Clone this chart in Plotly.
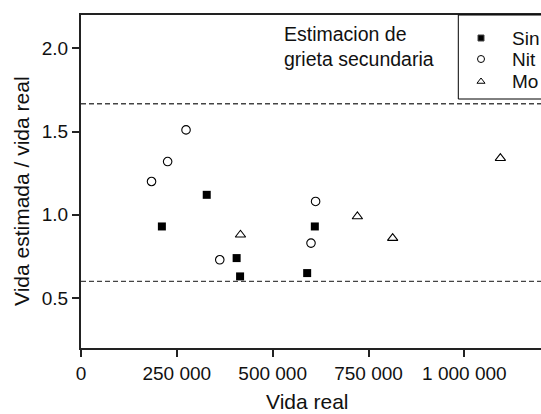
import plotly.graph_objects as go

# Fatigue life: estimated / real ratio versus real life, secondary crack estimate
sin_life = [211000, 328000, 406000, 415000, 590000, 610000]
sin_ratio = [0.93, 1.12, 0.74, 0.63, 0.65, 0.93]

nit_life = [184000, 226000, 274000, 362000, 600000, 612000]
nit_ratio = [1.20, 1.32, 1.51, 0.73, 0.83, 1.08]

mo_life = [416000, 721000, 813000, 1094000]
mo_ratio = [0.88, 0.99, 0.86, 1.34]

series_names = ["Sin", "Nit", "Mo"]

# Scatter band limits (factor of 1/0.6)
band_low = 0.6
band_high = 1 / 0.6

x_tickvals = [0, 250000, 500000, 750000, 1000000]
x_ticktext = ["0", "250 000", "500 000", "750 000", "1 000 000"]
y_tickvals = [0.5, 1.0, 1.5, 2.0]

W, H = 541, 414
ML, MR, MT, MB = 81, 0, 15, 66
PW, PH = W - ML - MR, H - MT - MB

FONT = "Arial, Liberation Sans, sans-serif"
INK = "#111111"
LINE = "#222222"


def px_x(p):
    return (p - ML) / PW


def px_y(p):
    return (H - MB - p) / PH


fig = go.Figure()

fig.add_trace(go.Scatter(
    x=sin_life, y=sin_ratio, mode="markers", name=series_names[0],
    marker=dict(symbol="square", size=8, color="#000000", line=dict(width=0)),
    showlegend=False))
fig.add_trace(go.Scatter(
    x=nit_life, y=nit_ratio, mode="markers", name=series_names[1],
    marker=dict(symbol="circle-open", size=8.5, color="#000000", line=dict(width=1.1)),
    showlegend=False))
fig.add_trace(go.Scatter(
    x=mo_life, y=mo_ratio, mode="markers", name=series_names[2],
    marker=dict(symbol="triangle-up-open", size=9, color="#000000", line=dict(width=1.1)),
    showlegend=False))

# Hand-built key on a pixel-scaled overlay axis pair
key_rows = [38, 59, 81.5]
key_symbols = ["square", "circle-open", "triangle-up-open"]
key_sizes = [6, 7, 7]
for name, sym, sz, ry in zip(series_names, key_symbols, key_sizes, key_rows):
    fig.add_trace(go.Scatter(
        x=[481], y=[ry], xaxis="x2", yaxis="y2", mode="markers",
        marker=dict(symbol=sym, size=sz, color="#000000", line=dict(width=1)),
        showlegend=False, cliponaxis=False, hoverinfo="skip"))
    fig.add_annotation(
        x=px_x(510), y=px_y(ry), xref="paper", yref="paper",
        text=name, showarrow=False, xanchor="left", yanchor="middle",
        font=dict(family=FONT, size=19, color=INK))

fig.add_shape(type="rect", xref="paper", yref="paper",
              x0=px_x(458.3), x1=px_x(W + 20), y0=px_y(99), y1=1.0,
              line=dict(color="#000000", width=1), fillcolor="rgba(0,0,0,0)")

for lvl in (band_low, band_high):
    fig.add_shape(type="line", xref="paper", yref="y", x0=0, x1=1,
                  y0=lvl, y1=lvl,
                  line=dict(color="#444444", width=1.4, dash="5px,3px"))

fig.add_annotation(
    x=px_x(281.5), y=px_y(46), xref="paper", yref="paper",
    text="Estimacion de<br>grieta secundaria", showarrow=False,
    xanchor="left", yanchor="middle", align="left",
    font=dict(family=FONT, size=19.5, color=INK))

# Axis titles
fig.add_annotation(
    x=px_x(307), y=px_y(401.5), xref="paper", yref="paper",
    text="Vida real", showarrow=False, xanchor="center", yanchor="middle",
    font=dict(family=FONT, size=21, color=INK))
fig.add_annotation(
    x=px_x(21), y=px_y(191), xref="paper", yref="paper",
    text="Vida estimada / vida real", showarrow=False, textangle=-90,
    xanchor="center", yanchor="middle",
    font=dict(family=FONT, size=21, color=INK))

fig.update_layout(
    width=W, height=H,
    margin=dict(l=ML, r=MR, t=MT, b=MB, pad=0),
    paper_bgcolor="white", plot_bgcolor="white",
    font=dict(family=FONT, size=19, color=INK),
    xaxis=dict(range=[0, 1.2e6], tickvals=x_tickvals, ticktext=x_ticktext,
               showgrid=False, zeroline=False, showline=True, mirror=True,
               linecolor=LINE, linewidth=1.5, ticks="outside", ticklen=7,
               tickwidth=1.5, tickcolor=LINE,
               tickfont=dict(family=FONT, size=19, color=INK)),
    yaxis=dict(range=[0.2, 2.2], tickvals=y_tickvals, tickformat=".1f",
               showgrid=False, zeroline=False, showline=True,
               linecolor=LINE, linewidth=2, ticks="outside", ticklen=7,
               tickwidth=1.5, tickcolor=LINE,
               tickfont=dict(family=FONT, size=19, color=INK)),
    xaxis2=dict(overlaying="x", range=[ML, W - MR], visible=False),
    yaxis2=dict(overlaying="y", range=[H - MB, MT], visible=False),
    showlegend=False,
)

fig.write_html("out.html")
